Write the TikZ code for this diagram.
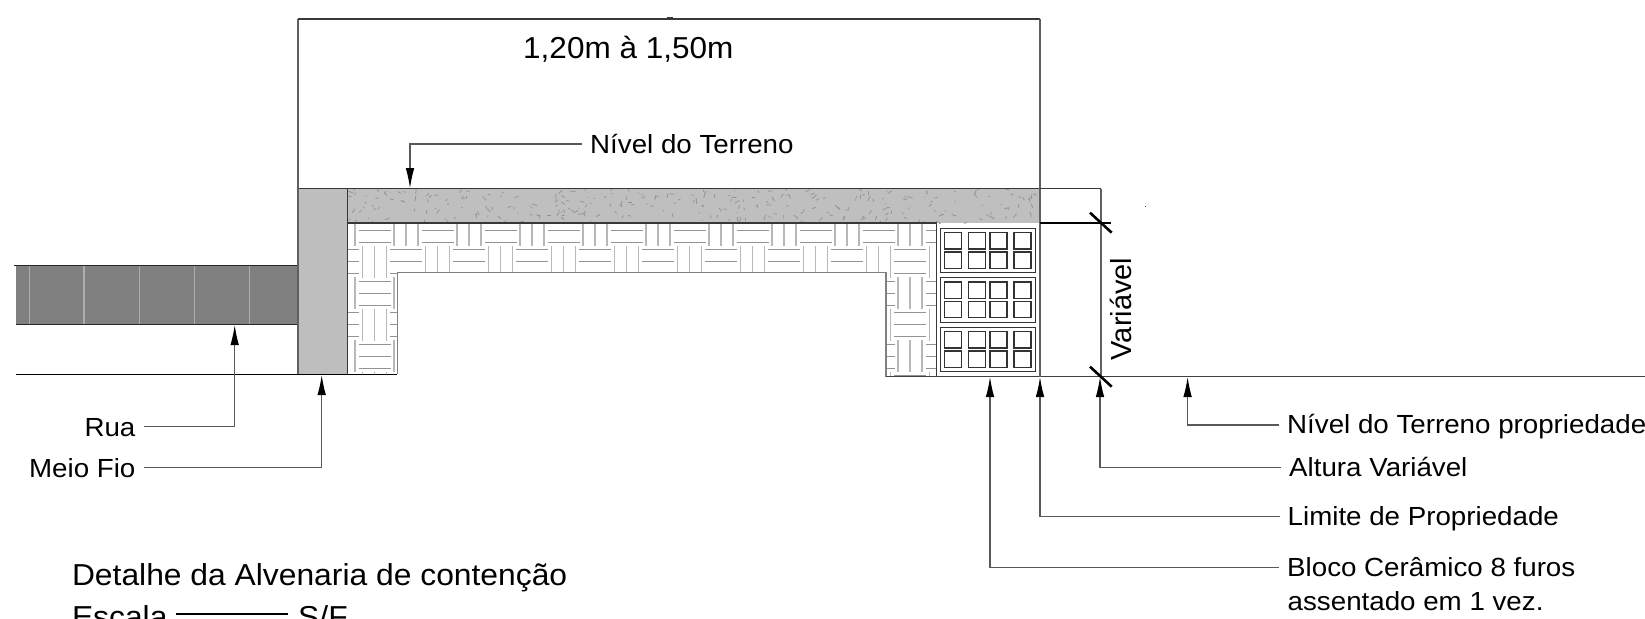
\documentclass[tikz,border=0pt]{standalone}
\usepackage{fontspec}
\setmainfont{Liberation Sans}
\newfontfamily\plainsans{Liberation Sans}
\newfontfamily\labelsans[FakeStretch=1.058]{Liberation Sans}
\newfontfamily\widesans[FakeStretch=1.04]{Liberation Sans}
\newfontfamily\titlesans[FakeStretch=1.05]{Liberation Sans}
\usetikzlibrary{arrows.meta}
\definecolor{darkline}{gray}{0.22}
\definecolor{leaderc}{gray}{0.35}
\definecolor{roadc}{gray}{0.5}
\definecolor{roadl}{gray}{0.68}
\definecolor{curbc}{gray}{0.745}
\definecolor{soilc}{gray}{0.75}
\definecolor{speck}{gray}{0.58}
\definecolor{hatch}{gray}{0.72}
\definecolor{hatchd}{gray}{0.58}
\tikzset{
  edgeline/.style={draw=darkline,line width=1.3pt},
  sideline/.style={draw=gray!75!black,line width=1.4pt},
  leader/.style={draw=leaderc,line width=1.1pt,-{Latex[length=20pt,width=8.5pt,color=black]}},
  lbl/.style={inner ysep=0pt,inner xsep=8pt,text height=18.3pt,text depth=0pt,font=\labelsans\fontsize{26.2}{28}\selectfont},
  bigtxt/.style={inner sep=0pt,anchor=base west,font=\widesans\fontsize{30.3}{32}\selectfont},
  titletxt/.style={inner sep=0pt,anchor=base west,font=\titlesans\fontsize{30.3}{32}\selectfont},
  tick/.style={draw=black,line width=2.6pt},
  blockline/.style={draw=black!80,line width=1.1pt}
}
\begin{document}
\begin{tikzpicture}[x=1pt,y=-1pt]
\clip (0,0) rectangle (1645,618);
% road
\fill[roadc] (16,265.3) rectangle (298,324.7);
\foreach \xr in {29.3,84,139.3,194.3,249.7}
  \draw[roadl,line width=1.2pt] (\xr,265.3) -- (\xr,324.7);
\draw[edgeline,draw=black!85] (14,265.3) -- (298,265.3) (16,324.7) -- (298,324.7);
\draw[draw=black,line width=1.1pt] (16,374.3) -- (397.3,374.3);
% curb
\fill[curbc] (298,188.7) rectangle (347.7,374.3);
% soil
\fill[soilc] (347.7,188.7) rectangle (1040,223);
\begin{scope}
  \clip (347.7,189.5) rectangle (1040,223);
  \pgfmathsetseed{11}
  \foreach \k in {1,...,280}{
    \pgfmathsetmacro{\px}{348+692*rnd}
    \pgfmathsetmacro{\py}{189+34*rnd}
    \pgfmathsetmacro{\pa}{random(0,179)}
    \pgfmathsetmacro{\pl}{1+4.5*rnd}
    \draw[speck,line width=.8pt] (\px,\py) -- ++(\pa:\pl);
  }
\end{scope}
% masonry hatch
\begin{scope}
  \clip (347.7,223) -- (936.3,223) -- (936.3,376.7) -- (886,376.7) -- (886,272.7) -- (397.3,272.7) -- (397.3,374.3) -- (347.7,374.3) -- cycle;
  \foreach \ii in {-1,0,...,18}{
    \foreach \jj in {0,1,2,3,4,5}{
      \pgfmathsetmacro{\cx}{374.5+31.5*\ii}
      \pgfmathsetmacro{\cy}{230+31.5*\jj}
      \pgfmathtruncatemacro{\parity}{mod(\ii+\jj+20,2)}
      \ifnum\parity=0
        \draw[hatchd,line width=1pt] (\cx-16,\cy-12) -- (\cx+16,\cy-12) (\cx-16,\cy) -- (\cx+16,\cy) (\cx-16,\cy+12) -- (\cx+16,\cy+12);
      \else
        \draw[hatch,line width=1.3pt] (\cx-12,\cy-16) -- (\cx-12,\cy+16) (\cx,\cy-16) -- (\cx,\cy+16) (\cx+12,\cy-16) -- (\cx+12,\cy+16);
      \fi
    }
  }
\end{scope}
% masonry, curb and soil outlines
\draw[edgeline] (298,188.7) -- (1040,188.7);
\draw[sideline] (298,188.7) -- (298,374.3);
\draw[edgeline] (347.7,188.7) -- (347.7,374.3);
\draw[edgeline] (347.7,223) -- (936.3,223) -- (936.3,376.7);
\draw[draw=gray,line width=1.3pt] (397.3,374.3) -- (397.3,272.7) -- (886,272.7) -- (886,376.7);
\draw[draw=black!75,line width=1.2pt] (886,376.7) -- (1645,376.7);
% ceramic blocks
\foreach \by in {228.3,277.7,327.3}{
  \draw[blockline] (940.3,\by) rectangle (1035.7,\by+44.6);
  \foreach \hx in {944.7,968.7,990,1014}{
    \draw[blockline] (\hx,\by+4.3) rectangle (\hx+17,\by+20.7);
    \draw[blockline] (\hx,\by+23.7) rectangle (\hx+17,\by+40);
  }
}
% dimension frame
\draw[sideline] (298,19) -- (298,188.7);
\draw[edgeline] (298,19) -- (1040,19);
\draw[sideline] (1040,19) -- (1040,376.7);
\draw[edgeline] (1040,188.7) -- (1101,188.7);
\draw[sideline] (1101,188.7) -- (1101,376.7);
\draw[draw=black,line width=1.1pt] (1040,223) -- (1110.7,223);
\draw[tick] (1090,212.7) -- (1111.7,232.7);
\draw[tick] (1090,366.7) -- (1111.7,386.7);
\draw[darkline,line width=1pt] (667,17.6) -- (673,17.6);
\fill[darkline] (1145.3,205.7) rectangle (1146.3,206.7);
% arrow tips
\coordinate (tipTerreno) at (410,188.2);
\coordinate (tipRua) at (234.7,325);
\coordinate (tipMeio) at (321.7,375);
\coordinate (tipBloco) at (990,377);
\coordinate (tipLimite) at (1040,377);
\coordinate (tipAltura) at (1100,377);
\coordinate (tipProp) at (1187.6,377);
\coordinate (escA) at (176,614);
\coordinate (escB) at (288,614);
% labels
\node[lbl,anchor=west] (terreno) at (582,144) {Nível do Terreno};
\node[lbl,anchor=east,text height=20pt] (rua) at (143.6,426.7) {Rua};
\node[lbl,anchor=east,text height=20pt] (meio) at (143.6,467.7) {Meio Fio};
\node[lbl,anchor=west,text height=16.3pt] (prop) at (1279,425) {Nível do Terreno propriedade};
\node[lbl,anchor=west] (altura) at (1281,467.7) {Altura Variável};
\node[lbl,anchor=west] (limite) at (1279.5,516.7) {Limite de Propriedade};
\node[lbl,anchor=west] (bloco) at (1279,567.7) {Bloco Cerâmico 8 furos};
\node[lbl,anchor=west] (bloco2) at (1279.5,601.7) {assentado em 1 vez.};
\node[bigtxt] (largura) at (523,58.7) {1,20m à 1,50m};
\node[titletxt] (titulo) at (71.8,585) {Detalhe da Alvenaria de contenção};
\node[titletxt] (escala) at (71.8,627) {Escala};
\node[titletxt] (sf) at (298,627) {S/F};
\node[inner sep=0pt,anchor=base,rotate=90,font=\plainsans\fontsize{29}{31}\selectfont] (variavel) at (1131.7,309) {Variável};
% connectors
\draw[leader] (terreno.west) -| (tipTerreno);
\draw[leader] (rua.east) -| (tipRua);
\draw[leader] (meio.east) -| (tipMeio);
\draw[leader] (prop.west) -| (tipProp);
\draw[leader] (altura.west) -| (tipAltura);
\draw[leader] (limite.west) -| (tipLimite);
\draw[leader] (bloco.west) -| (tipBloco);
\draw[draw=black,line width=1.6pt] (escA) -- (escB);
\end{tikzpicture}
\end{document}
